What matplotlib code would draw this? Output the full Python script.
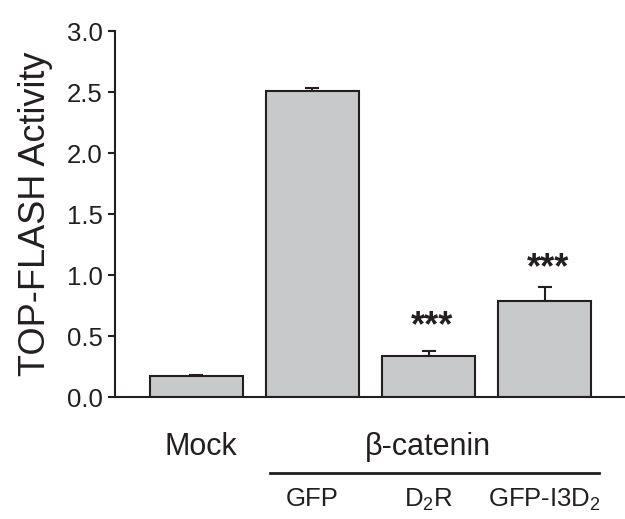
import numpy as np
import matplotlib
matplotlib.use("Agg")
import matplotlib.pyplot as plt

plt.rcParams['font.family'] = ['Liberation Sans', 'DejaVu Sans']
plt.rcParams['mathtext.fontset'] = 'custom'
plt.rcParams['mathtext.rm'] = 'Liberation Sans'

groups = ["Mock", "GFP", r"D$_\mathrm{2}$R", r"GFP-I3D$_\mathrm{2}$"]
values = [0.175, 2.51, 0.34, 0.79]
errors = [0.005, 0.02, 0.035, 0.11]
stars = ["", "", "***", "***"]
star_y = [0, 0, 0.58, 1.05]

edge = '#231f20'
fig = plt.figure(figsize=(6.25, 5.19), dpi=100)
ax = fig.add_axes([0.184, 0.235, 0.816, 0.705])

x = np.arange(len(values))
ax.bar(x, values, width=0.8, color='#c8c9cb', edgecolor=edge, linewidth=1.5, zorder=2)
ax.errorbar(x, values, yerr=[np.zeros(len(errors)), errors], fmt='none',
            ecolor=edge, elinewidth=1.5, capsize=5, capthick=1.5, zorder=1)

for xi, sy, s in zip(x, star_y, stars):
    if s:
        ax.text(xi + 0.03, sy, s, ha='center', va='center', fontsize=26,
                fontweight='bold', color=edge)

ax.set_xlim(-0.70, 3.69)
ax.set_ylim(0, 3.0)
ax.set_yticks(np.arange(0, 3.01, 0.5))
ax.set_yticklabels([f"{t:.1f}" for t in np.arange(0, 3.01, 0.5)])
ax.set_xticks([])
ax.tick_params(axis='y', direction='out', length=5, width=1.5, labelsize=18.5,
               colors=edge, pad=4)
ax.spines['top'].set_visible(False)
ax.spines['right'].set_visible(False)
for sp in ['left', 'bottom']:
    ax.spines[sp].set_linewidth(1.5)
    ax.spines[sp].set_color(edge)
ax.set_ylabel("TOP-FLASH Activity", fontsize=26, color=edge, labelpad=10)

# group labels under the axis
ax.text(0.04, -0.41, groups[0], ha='center', va='center', fontsize=22, color=edge, clip_on=False)
ax.text(1.99, -0.41, "β-catenin", ha='center', va='center', fontsize=22, color=edge, clip_on=False)
ax.plot([0.63, 3.47], [-0.62, -0.62], color=edge, lw=2, clip_on=False)
for xi, g in zip(x[1:], groups[1:]):
    ax.text(xi, -0.84, g, ha='center', va='center', fontsize=18.5, color=edge, clip_on=False)

fig.savefig("out.png", dpi=100)
